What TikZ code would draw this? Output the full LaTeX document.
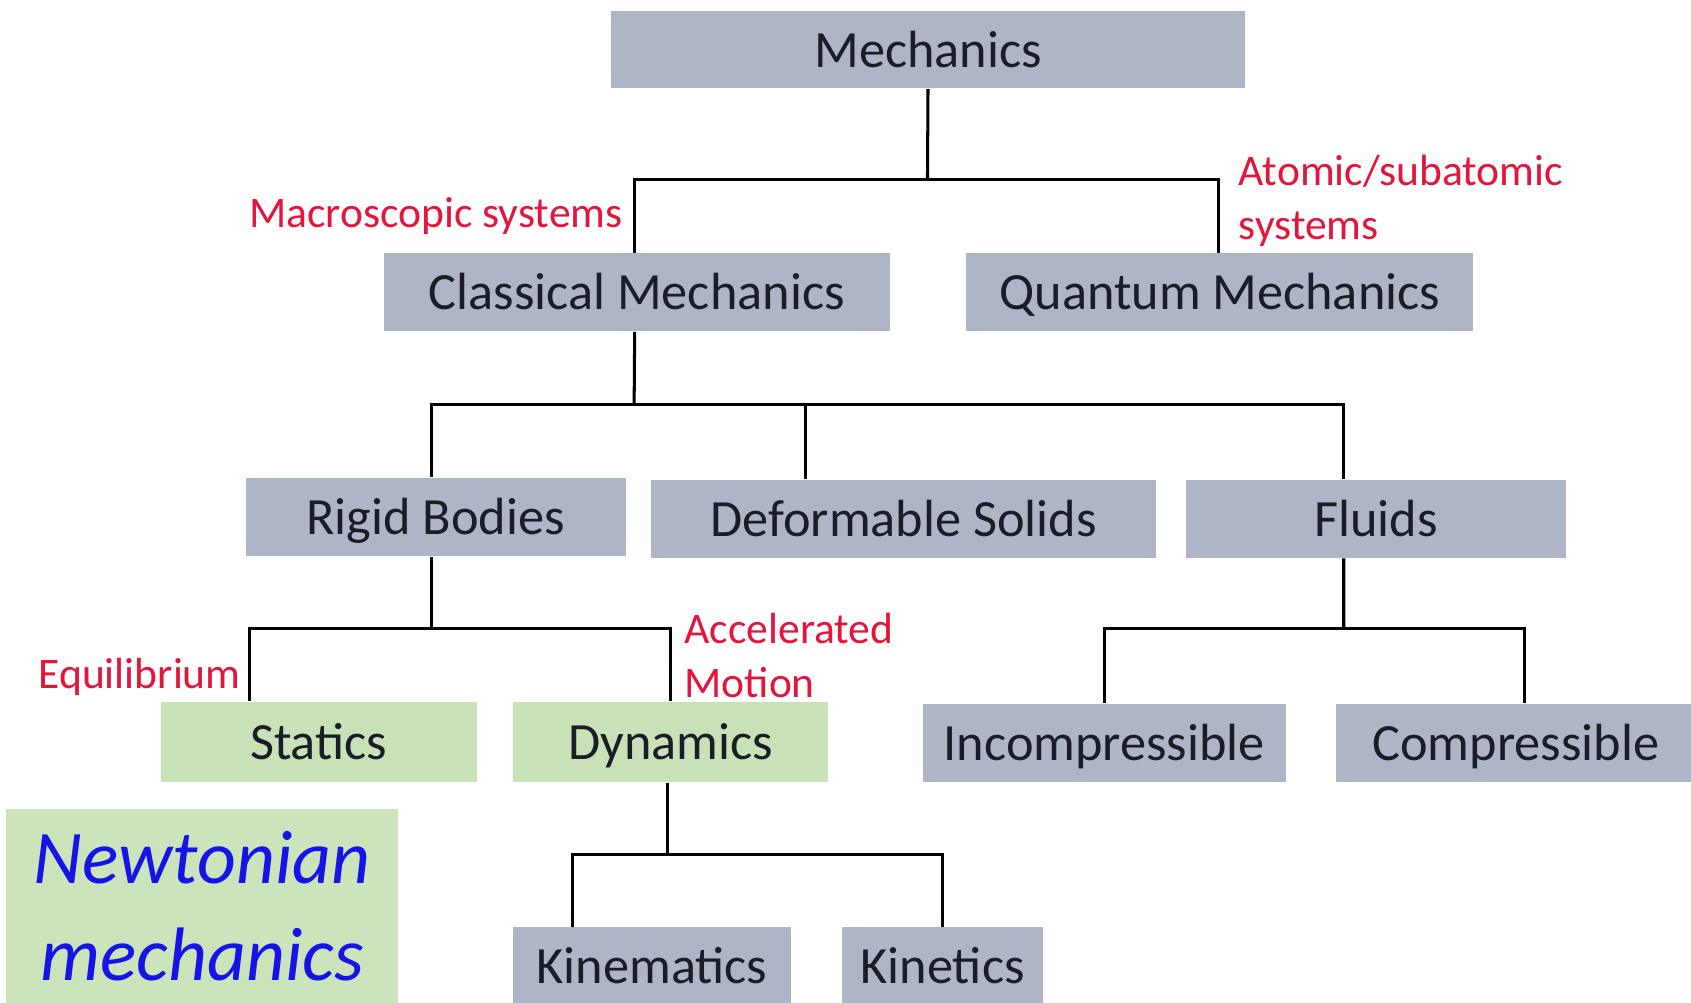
\documentclass[tikz,border=0pt]{standalone}
\usepackage{fontspec}
\setmainfont{Carlito}
\usetikzlibrary{positioning}
\definecolor{boxgray}{HTML}{ADB5C6}
\definecolor{boxgreen}{HTML}{C8E1B6}
\definecolor{notegreen}{HTML}{CCE4BC}
\definecolor{ink}{HTML}{1A1C26}
\definecolor{tagred}{HTML}{E4153A}
\definecolor{newtblue}{HTML}{1414E6}
\tikzset{
  topic/.style={fill=boxgray,text=ink,inner sep=0pt,minimum height=0.72cm,
                text height=9.3pt,text depth=0pt,
                font=\fontsize{13.8}{16}\selectfont},
  branch/.style={topic,fill=boxgreen,minimum height=0.74cm},
  tag/.style={text=tagred,inner sep=0pt,align=left,
              font=\fontsize{11.5}{14.2}\selectfont},
  link/.style={draw=black,line width=0.8pt},
}
\begin{document}
\begin{tikzpicture}
  \useasboundingbox (0,0) rectangle (15.68,-9.30);

  % Top level
  \node[topic,minimum width=5.87cm] (mech) at (8.605,-0.46) {Mechanics};
  \node[topic,minimum width=4.69cm] (cm) at (5.905,-2.71) {Classical Mechanics};
  \node[topic,minimum width=4.70cm] (qm) at (11.31,-2.71) {Quantum Mechanics};

  % Classical branches
  \node[topic,minimum width=3.52cm,minimum height=0.73cm] (rb) at (4.04,-4.795) {Rigid Bodies};
  \node[topic,minimum width=4.68cm] (ds) at (8.38,-4.81) {Deformable Solids};
  \node[topic,minimum width=3.52cm] (fl) at (12.76,-4.81) {Fluids};

  % Rigid bodies / fluids children
  \node[branch,minimum width=2.93cm] (st) at (2.955,-6.88) {Statics};
  \node[branch,minimum width=2.92cm] (dy) at (6.22,-6.88) {Dynamics};
  \node[topic,minimum width=3.36cm] (inc) at (10.24,-6.89) {Incompressible};
  \node[topic,minimum width=3.33cm] (comp) at (14.055,-6.89) {Compressible};

  % Dynamics children
  \node[topic,minimum width=2.57cm] (kin) at (6.045,-8.96) {Kinematics};
  \node[topic,minimum width=1.86cm] (kt) at (8.74,-8.96) {Kinetics};

  % Note box
  \node[fill=notegreen,minimum width=3.63cm,minimum height=1.80cm,inner sep=0pt,
        text=newtblue,align=center,font=\fontsize{20}{25.5}\selectfont\itshape]
    (newt) at (1.875,-8.40) {Newtonian\\mechanics};

  % Red tags
  \node[tag,anchor=east] (macro) at (5.78,-2.00) {Macroscopic systems};
  \node[tag,anchor=west] (atomic) at (11.48,-1.86) {Atomic/subatomic\\systems};
  \node[tag,anchor=east] (equil) at (2.24,-6.28) {Equilibrium};
  \node[tag,anchor=west] (accel) at (6.34,-6.08) {Accelerated\\Motion};

  % Connectors
  \coordinate (j1) at (8.60,-1.66);
  \draw[link] (mech.south) -- (j1);
  \draw[link] ([xshift=-0.02cm]cm.north) |- (j1) -| ([xshift=-0.01cm]qm.north);

  \coordinate (j2) at (5.88,-3.75);
  \draw[link] ([xshift=-0.02cm]cm.south) -- (j2);
  \draw[link] ([xshift=-0.04cm]rb.north) |- (j2) -| ([xshift=-0.30cm]fl.north);
  \draw[link] ([xshift=-0.91cm]ds.north) -- ([xshift=-0.91cm]ds.north |- j2);

  \coordinate (j3) at (4.00,-5.83);
  \draw[link] ([xshift=-0.04cm]rb.south) -- (j3);
  \draw[link] ([xshift=-0.645cm]st.north) |- (j3) -| (dy.north);

  \coordinate (j4) at (12.46,-5.83);
  \draw[link] ([xshift=-0.30cm]fl.south) -- (j4);
  \draw[link] (inc.north) |- (j4) -| ([xshift=0.085cm]comp.north);

  \coordinate (j5) at (6.19,-7.92);
  \draw[link] ([xshift=-0.03cm]dy.south) -- (j5);
  \draw[link] ([xshift=-0.735cm]kin.north) |- (j5) -| (kt.north);
\end{tikzpicture}
\end{document}
